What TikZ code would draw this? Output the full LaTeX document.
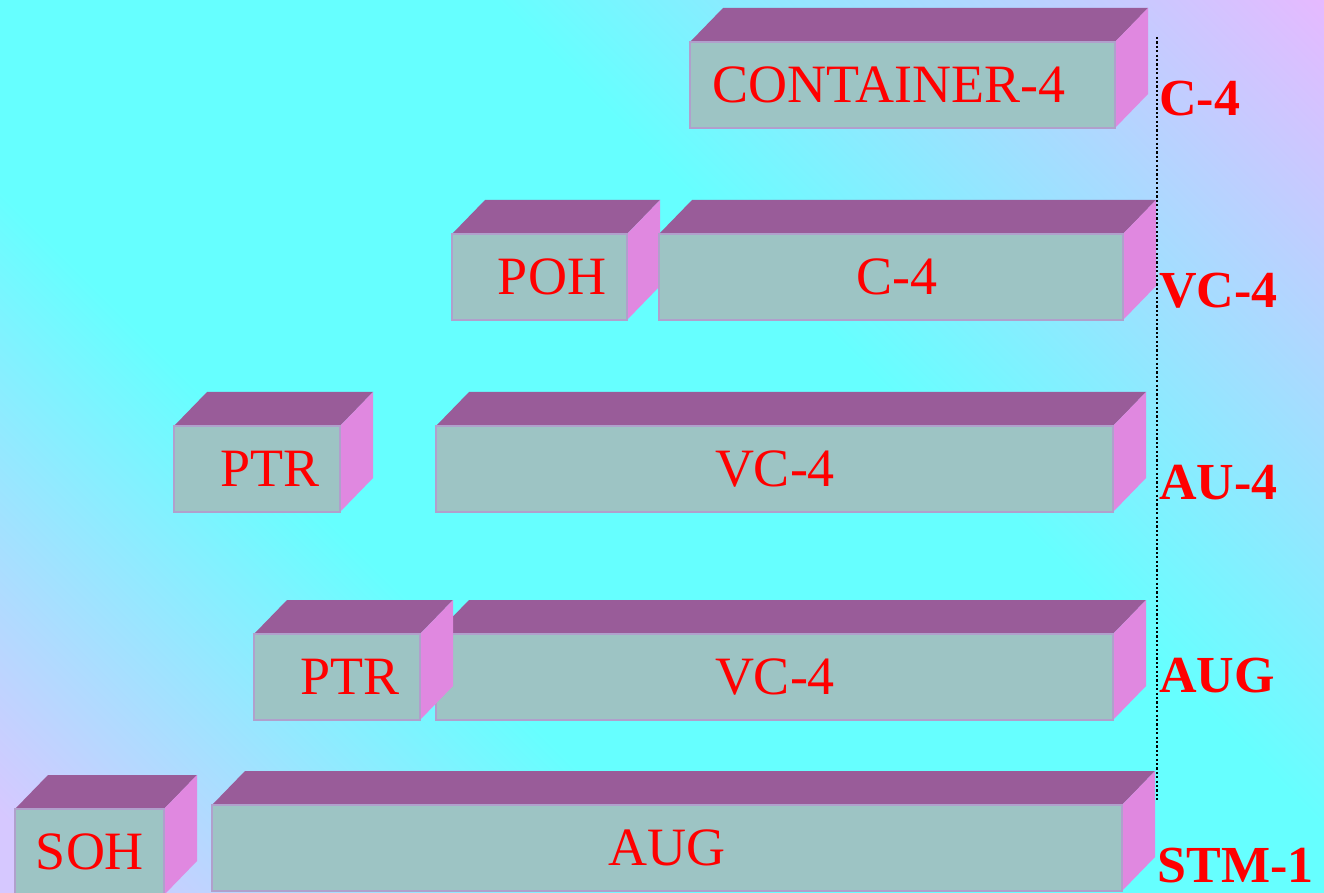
\documentclass[tikz,border=0pt]{standalone}
\usepackage{fontspec}
\setmainfont{Liberation Serif}
\definecolor{bgcyan}{RGB}{102,255,255}
\definecolor{bgpink}{RGB}{232,184,255}
\definecolor{bglav}{RGB}{214,200,255}
\definecolor{facegrey}{RGB}{157,196,196}
\definecolor{lidpurple}{RGB}{153,92,153}
\definecolor{flankpink}{RGB}{224,136,224}
\definecolor{rimlav}{RGB}{176,160,204}
\pgfdeclarehorizontalshading{backdrop}{100bp}{color(0bp)=(bglav); color(17bp)=(bglav); color(37bp)=(bgcyan); color(59bp)=(bgcyan); color(86bp)=(bgpink); color(100bp)=(bgpink)}
\tikzset{
  face/.style={fill=facegrey, draw=rimlav, line width=0.8pt},
  lid/.style={fill=lidpurple},
  flank/.style={fill=flankpink},
  boxtext/.style={text=red, font=\fontsize{27}{32}\selectfont, inner sep=0pt, text depth=0pt},
  tag/.style={text=red, font=\fontsize{26}{31}\selectfont\bfseries, inner sep=0pt, text depth=0pt, anchor=west}
}
% name, left, right, top of front face, text x, text
\newcommand{\slab}[6]{%
  \fill[lid] (#2,#4) -- (#2+33,#4-34) -- (#3+33,#4-34) -- (#3,#4) -- cycle;
  \fill[flank] (#3,#4) -- (#3+33,#4-34) -- (#3+33,#4+52) -- (#3,#4+86) -- cycle;
  \draw[face] (#2,#4) rectangle (#3,#4+86);
  \node[boxtext] (#1) at (#5,#4+43) {#6};
}
\begin{document}
\begin{tikzpicture}[x=0.5pt,y=-0.5pt]
\clip (0,0) rectangle (1324,893);
\fill[shading=backdrop, shading angle=45] (0,0) rectangle (1324,893);
% C-4
\slab{cont}{690}{1115}{42}{889}{CONTAINER-4}
% VC-4
\slab{poh}{452}{627}{234}{552}{POH}
\slab{cfour}{659}{1123}{234}{897}{C-4}
% AU-4
\slab{ptra}{174}{340}{426}{270}{PTR}
\slab{vca}{436}{1113}{426}{775}{VC-4}
% AUG
\slab{vcb}{436}{1113}{634}{775}{VC-4}
\slab{ptrb}{254}{420}{634}{350}{PTR}
% STM-1
\slab{soh}{15}{164}{809}{90}{SOH}
\slab{aug}{212}{1122}{805}{667}{AUG}
\coordinate (ltop) at (1157,37);
\coordinate (lbot) at (1157,802);
\draw[dash pattern=on 1.1pt off 1.1pt, line width=1.1pt] (ltop) -- (lbot);
\node[tag] (lcfour) at (1159,98) {C-4};
\node[tag] (lvc) at (1159,290) {VC-4};
\node[tag] (lau) at (1159,482) {AU-4};
\node[tag] (laug) at (1159,675) {AUG};
\node[tag] (lstm) at (1157,865) {STM-1};
\end{tikzpicture}
\end{document}
